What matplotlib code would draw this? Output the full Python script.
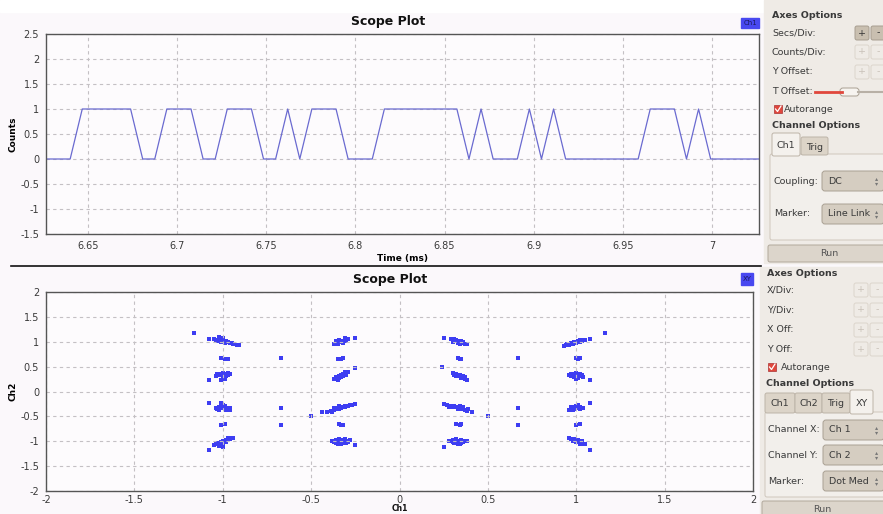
import numpy as np
import matplotlib
matplotlib.use("Agg")
import matplotlib.pyplot as plt
from matplotlib.patches import Rectangle, FancyBboxPatch
from matplotlib.ticker import MultipleLocator, FormatStrFormatter

W, H = 883, 514

# ---- data: top scope trace (Ch1), one value per sample ----
first_sample_ms = 6.6264
sample_period_ms = 0.00678
ch1_samples = [0, 0, 0, 1, 1, 1, 1, 1, 0, 0,
               1, 1, 1, 0, 0, 1, 1, 1, 0, 0,
               1, 0, 1, 1, 1, 0, 0, 0, 1, 1,
               1, 1, 1, 1, 1, 0, 1, 0, 0, 0,
               1, 0, 1, 0, 0, 0, 0, 0, 0, 0,
               1, 1, 1, 0, 1, 0, 0, 0, 0, 0]
time_ticks = [6.65, 6.7, 6.75, 6.8, 6.85, 6.9, 6.95, 7.0]

# ---- data: bottom XY constellation (Ch1 vs Ch2) ----
col_left = [
    (-1.05, 1.05), (-1.04, 1.03), (-1.03, 1.02), (-1.02, 1.03), (-1.01, 1.01), (-1.00, 1.02),
    (-0.99, 1.00), (-0.98, 1.01), (-0.97, 0.99), (-0.96, 0.98), (-0.95, 0.97), (-0.94, 0.96),
    (-0.99, 0.98), (-1.01, 1.00), (-0.97, 1.00), (-0.92, 0.94), (-0.91, 0.93), (-1.02, 1.09),
    (-1.08, 1.06), (-1.16, 1.17), (-1.00, 1.07),
    (-1.01, 0.67), (-0.99, 0.66), (-0.97, 0.66),
    (-1.04, 0.31), (-1.02, 0.33), (-1.01, 0.35), (-1.00, 0.32), (-0.99, 0.36), (-0.98, 0.34),
    (-0.97, 0.33), (-0.96, 0.36), (-1.00, 0.29), (-0.99, 0.26), (-1.01, 0.24), (-0.98, 0.31),
    (-1.03, 0.36), (-0.97, 0.37), (-1.08, 0.23), (-1.00, 0.38),
    (-1.04, -0.33), (-1.02, -0.32), (-1.01, -0.34), (-1.00, -0.31), (-0.99, -0.36), (-0.98, -0.33),
    (-0.97, -0.35), (-0.96, -0.34), (-1.00, -0.27), (-1.01, -0.24), (-0.99, -0.29), (-0.98, -0.38),
    (-1.03, -0.35), (-0.96, -0.37), (-1.08, -0.24), (-1.02, -0.37),
    (-1.01, -0.67), (-0.99, -0.66),
    (-1.05, -1.07), (-1.04, -1.05), (-1.03, -1.04), (-1.02, -1.03), (-1.01, -1.02), (-1.00, -1.00),
    (-0.99, -0.99), (-0.98, -0.98), (-0.97, -0.96), (-0.96, -0.95), (-0.95, -0.94), (-0.94, -0.93),
    (-1.00, -1.04), (-0.98, -1.01), (-1.02, -1.09), (-1.00, -1.12), (-0.97, -0.93), (-1.08, -1.17),
]
col_mid_left = [
    (-0.37, 0.96), (-0.36, 0.98), (-0.35, 0.97), (-0.34, 1.00), (-0.33, 0.99), (-0.33, 1.02),
    (-0.32, 1.01), (-0.31, 1.03), (-0.30, 1.04), (-0.29, 1.06), (-0.31, 1.07), (-0.35, 0.95),
    (-0.34, 1.03), (-0.30, 1.01), (-0.36, 1.01), (-0.32, 0.97), (-0.25, 1.08),
    (-0.35, 0.65), (-0.33, 0.66), (-0.32, 0.67),
    (-0.37, 0.25), (-0.36, 0.27), (-0.35, 0.29), (-0.34, 0.31), (-0.33, 0.30), (-0.33, 0.33),
    (-0.32, 0.35), (-0.31, 0.36), (-0.30, 0.38), (-0.29, 0.40), (-0.35, 0.24), (-0.36, 0.30),
    (-0.32, 0.32), (-0.30, 0.34), (-0.34, 0.27), (-0.31, 0.39), (-0.25, 0.48),
    (-0.44, -0.42), (-0.41, -0.41), (-0.39, -0.39), (-0.37, -0.38), (-0.36, -0.36), (-0.35, -0.34),
    (-0.34, -0.35), (-0.33, -0.33), (-0.32, -0.32), (-0.31, -0.31), (-0.30, -0.30), (-0.29, -0.29),
    (-0.27, -0.28), (-0.25, -0.26), (-0.37, -0.33), (-0.34, -0.30), (-0.31, -0.29), (-0.28, -0.27),
    (-0.38, -0.41),
    (-0.34, -0.66), (-0.32, -0.67), (-0.33, -0.68),
    (-0.38, -0.99), (-0.37, -1.01), (-0.36, -0.98), (-0.35, -1.02), (-0.34, -0.99), (-0.33, -1.01),
    (-0.32, -0.98), (-0.31, -1.03), (-0.30, -0.99), (-0.29, -1.01), (-0.35, -1.05), (-0.33, -1.06),
    (-0.36, -1.03), (-0.31, -0.96), (-0.34, -0.96), (-0.30, -1.04), (-0.28, -0.98), (-0.25, -1.08),
]
col_mid_right = [
    (0.29, 1.06), (0.31, 1.05), (0.32, 1.03), (0.33, 1.01), (0.34, 1.00), (0.35, 0.99),
    (0.36, 0.97), (0.37, 0.95), (0.38, 0.96), (0.33, 0.98), (0.31, 1.02), (0.35, 1.02),
    (0.34, 0.96), (0.30, 1.00), (0.36, 1.00), (0.25, 1.08),
    (0.33, 0.67), (0.35, 0.66), (0.34, 0.66),
    (0.30, 0.38), (0.31, 0.36), (0.32, 0.35), (0.33, 0.33), (0.34, 0.31), (0.35, 0.30),
    (0.36, 0.28), (0.37, 0.26), (0.38, 0.24), (0.32, 0.31), (0.34, 0.34), (0.36, 0.31),
    (0.35, 0.27), (0.31, 0.33), (0.37, 0.29), (0.24, 0.49),
    (0.25, -0.26), (0.27, -0.28), (0.29, -0.29), (0.30, -0.31), (0.32, -0.32), (0.33, -0.33),
    (0.34, -0.35), (0.35, -0.34), (0.36, -0.36), (0.37, -0.37), (0.38, -0.39), (0.41, -0.42),
    (0.31, -0.29), (0.34, -0.30), (0.36, -0.32), (0.33, -0.36), (0.39, -0.36), (0.28, -0.31),
    (0.32, -0.66), (0.34, -0.67), (0.35, -0.66),
    (0.28, -0.99), (0.30, -1.01), (0.31, -0.98), (0.32, -1.02), (0.33, -0.99), (0.34, -1.01),
    (0.35, -0.97), (0.36, -1.02), (0.37, -0.99), (0.38, -1.00), (0.33, -1.05), (0.31, -1.04),
    (0.35, -1.04), (0.32, -0.96), (0.34, -1.06), (0.30, -0.97), (0.25, -1.11),
]
col_right = [
    (0.93, 0.92), (0.94, 0.94), (0.95, 0.95), (0.96, 0.96), (0.97, 0.97), (0.98, 0.98),
    (0.99, 0.99), (1.00, 1.00), (1.01, 1.01), (1.02, 1.00), (1.03, 1.02), (1.04, 1.03),
    (1.00, 0.97), (0.98, 0.96), (1.02, 1.04), (1.05, 1.03), (1.08, 1.06), (1.16, 1.17), (0.96, 0.93),
    (1.00, 0.67), (1.02, 0.67), (1.01, 0.66),
    (0.96, 0.34), (0.97, 0.36), (0.98, 0.33), (0.99, 0.35), (1.00, 0.32), (1.01, 0.34),
    (1.02, 0.31), (1.03, 0.33), (1.04, 0.30), (0.99, 0.30), (1.01, 0.28), (1.00, 0.26),
    (0.97, 0.32), (1.02, 0.35), (1.00, 0.37), (1.08, 0.23),
    (0.96, -0.37), (0.97, -0.35), (0.98, -0.33), (0.99, -0.36), (1.00, -0.32), (1.01, -0.34),
    (1.02, -0.31), (1.03, -0.33), (1.00, -0.29), (1.01, -0.27), (0.99, -0.31), (0.98, -0.38),
    (1.02, -0.36), (0.97, -0.32), (1.04, -0.34), (1.08, -0.24),
    (1.00, -0.67), (1.02, -0.66),
    (0.96, -0.93), (0.97, -0.95), (0.98, -0.96), (0.99, -0.98), (1.00, -0.99), (1.01, -1.00),
    (1.02, -1.02), (1.03, -1.03), (1.04, -1.05), (1.05, -1.06), (0.99, -0.95), (1.01, -0.97),
    (1.03, -1.00), (1.00, -1.02), (1.02, -1.06), (0.98, -1.00), (1.08, -1.18),
]
stray_points = [(-0.67, 0.67), (-0.67, -0.33), (-0.67, -0.67), (-0.50, -0.49),
                (0.67, 0.67), (0.67, -0.33), (0.67, -0.67), (0.50, -0.49)]
xy_ticks = [-2, -1.5, -1, -0.5, 0, 0.5, 1, 1.5, 2]

# ---- colours ----
PLOT_BG = "#fdfbfd"
FIG_BG = "#fbf8fb"
PANEL_BG = "#efebe6"
TRACE = "#6a6ad0"
DOTS = "#3d3df2"
GRID = "#c4c0c4"
TXT = "#3a3a3a"


def fx(x):
    return x / W


def fy(y):
    return 1 - y / H


def style_axes(ax):
    ax.set_facecolor(PLOT_BG)
    ax.grid(True, color=GRID, linestyle=(0, (3, 3)), linewidth=0.8)
    ax.tick_params(length=0, labelsize=7, colors=TXT, pad=5)
    for s in ax.spines.values():
        s.set_color("#555555")
        s.set_linewidth(1.0)


fig = plt.figure(figsize=(W / 100, H / 100), dpi=100, facecolor=FIG_BG)

# top: time-domain scope
ax1 = fig.add_axes([fx(46), fy(234), fx(759) - fx(46), fy(34) - fy(234)])
style_axes(ax1)
t = first_sample_ms + sample_period_ms * np.arange(len(ch1_samples))
ax1.plot(t, ch1_samples, color=TRACE, linewidth=0.9)
ax1.set_xlim(t[0], t[-1])
ax1.set_ylim(-1.5, 2.5)
ax1.set_xticks(time_ticks)
ax1.yaxis.set_major_locator(MultipleLocator(0.5))
ax1.xaxis.set_major_formatter(FormatStrFormatter("%g"))
ax1.yaxis.set_major_formatter(FormatStrFormatter("%g"))
ax1.set_xlabel("Time (ms)", fontsize=6.5, fontweight="bold", labelpad=2)
ax1.set_ylabel("Counts", fontsize=6.5, fontweight="bold")
ax1.yaxis.set_label_coords((18 - 46) / 713, 0.5)

# bottom: XY constellation
ax2 = fig.add_axes([fx(46), fy(491), fx(753) - fx(46), fy(292) - fy(491)])
style_axes(ax2)
ax2.tick_params(axis="x", pad=3)
pts = np.array(col_left + col_mid_left + col_mid_right + col_right + stray_points)
ax2.scatter(pts[:, 0], pts[:, 1], s=5, marker="s", color=DOTS, linewidths=0)
ax2.set_xlim(-2, 2)
ax2.set_ylim(-2, 2)
ax2.set_xticks(xy_ticks)
ax2.set_yticks(xy_ticks)
ax2.xaxis.set_major_formatter(FormatStrFormatter("%g"))
ax2.yaxis.set_major_formatter(FormatStrFormatter("%g"))
ax2.set_ylabel("Ch2", fontsize=6.5, fontweight="bold")
ax2.yaxis.set_label_coords((18 - 46) / 707, 0.5)

# overlay in pixel coordinates for titles, legends and GTK side panels
ov = fig.add_axes([0, 0, 1, 1], zorder=5)
ov.set_xlim(0, W)
ov.set_ylim(H, 0)
ov.axis("off")
ov.patch.set_alpha(0)

ov.add_patch(Rectangle((0, 0), W, 12, color="white", zorder=0))
ov.text(388, 22, "Scope Plot", ha="center", va="center", fontsize=9, fontweight="bold", color="#111111")
ov.text(390, 279, "Scope Plot", ha="center", va="center", fontsize=9, fontweight="bold", color="#111111")
ov.text(400, 513, "Ch1", ha="center", va="bottom", fontsize=5.5, fontweight="bold", color="#111111")
ov.add_patch(Rectangle((741, 18), 18, 10, color="#4848f0"))
ov.text(750, 23, "Ch1", ha="center", va="center", fontsize=5, color="#1a1a60")
ov.add_patch(Rectangle((741, 273), 12, 12, color="#4848f0"))
ov.text(747, 279, "XY", ha="center", va="center", fontsize=5, color="#1a1a60")
ov.plot([11, 761], [266, 266], color="#111111", linewidth=1.2)


def box(x0, y0, x1, y1, fc, ec, r=2):
    ov.add_patch(FancyBboxPatch((x0, y0), x1 - x0, y1 - y0,
                                boxstyle="round,pad=0,rounding_size=%g" % r,
                                fc=fc, ec=ec, lw=0.7))


def label(x, y, s, bold=False, size=6.8, color=TXT, ha="left"):
    ov.text(x, y, s, ha=ha, va="center", fontsize=size, color=color,
            fontweight="bold" if bold else "normal")


def pm_buttons(x, y, active=False):
    fc = "#c9bfb0" if active else "#efebe6"
    ec = "#a79d90" if active else "#dcd5cc"
    tc = "#333333" if active else "#c9c1b8"
    box(x, y - 7, x + 14, y + 7, fc, ec)
    box(x + 16, y - 7, x + 30, y + 7, fc, ec)
    label(x + 7, y, "+", color=tc, ha="center")
    label(x + 23, y, "-", color=tc, ha="center")


def combo(x0, y, x1, s):
    box(x0, y - 10, x1, y + 10, "#d5cdc1", "#a9a093", r=3)
    label(x0 + 6, y, s)
    label(x1 - 7, y - 2.5, "\u25b4", size=4.5, color="#777777", ha="center")
    label(x1 - 7, y + 2.5, "\u25be", size=4.5, color="#777777", ha="center")


def tab(x0, x1, y0, y1, s, active):
    fc = "#f4f1ed" if active else "#dcd4c8"
    box(x0, y0, x1, y1, fc, "#bdb4a8", r=2)
    label((x0 + x1) / 2, (y0 + y1) / 2 + 1, s, ha="center")


def checkbox(x, y):
    ov.add_patch(Rectangle((x, y - 4), 8, 8, fc="#e0473c", ec="#a33", lw=0.5))
    ov.plot([x + 1.5, x + 3.5, x + 7], [y, y + 2.5, y - 3], color="white", lw=0.9)


# top side panel
ov.add_patch(Rectangle((764, 0), W - 764, 263, color=PANEL_BG, zorder=0))
label(772, 16, "Axes Options", bold=True)
label(772, 33, "Secs/Div:")
pm_buttons(855, 33, active=True)
label(772, 52, "Counts/Div:")
pm_buttons(855, 52)
label(772, 72, "Y Offset:")
pm_buttons(855, 72)
label(772, 91, "T Offset:")
ov.plot([815, 842], [92, 92], color="#e0473c", linewidth=2)
ov.plot([858, 883], [92, 92], color="#b8b0a6", linewidth=1.5)
box(840, 88, 859, 96, "#f7f4f0", "#a9a093", r=3)
checkbox(774, 109)
label(784, 109, "Autorange")
label(772, 126, "Channel Options", bold=True)
box(770, 154, 888, 240, "#f2efeb", "#cfc7bc", r=2)
tab(801, 828, 137, 155, "Trig", False)
tab(772, 800, 133, 156, "Ch1", True)
label(774, 181, "Coupling:")
combo(822, 181, 884, "DC")
label(774, 214, "Marker:")
combo(822, 214, 884, "Line Link")
box(768, 245, 890, 262, "#dcd5cb", "#b1a89b", r=2)
label(829, 254, "Run", ha="center", color="#555555")

# bottom side panel
ov.add_patch(Rectangle((760, 267), W - 760, H - 267, color=PANEL_BG, zorder=0))
label(767, 274, "Axes Options", bold=True)
label(767, 290, "X/Div:")
pm_buttons(854, 290)
label(767, 310, "Y/Div:")
pm_buttons(854, 310)
label(767, 330, "X Off:")
pm_buttons(854, 330)
label(767, 349, "Y Off:")
pm_buttons(854, 349)
checkbox(768, 367)
label(781, 367, "Autorange")
label(766, 384, "Channel Options", bold=True)
box(765, 412, 888, 497, "#f2efeb", "#cfc7bc", r=2)
tab(765, 795, 393, 413, "Ch1", False)
tab(795, 822, 393, 413, "Ch2", False)
tab(822, 850, 393, 413, "Trig", False)
tab(850, 873, 390, 414, "XY", True)
label(768, 430, "Channel X:")
combo(823, 430, 884, "Ch 1")
label(768, 455, "Channel Y:")
combo(823, 455, 884, "Ch 2")
label(768, 481, "Marker:")
combo(823, 481, 884, "Dot Med")
box(762, 501, 890, 520, "#dcd5cb", "#b1a89b", r=2)
label(822, 509, "Run", ha="center", color="#555555")

fig.savefig("out.png", dpi=100, facecolor=FIG_BG)
